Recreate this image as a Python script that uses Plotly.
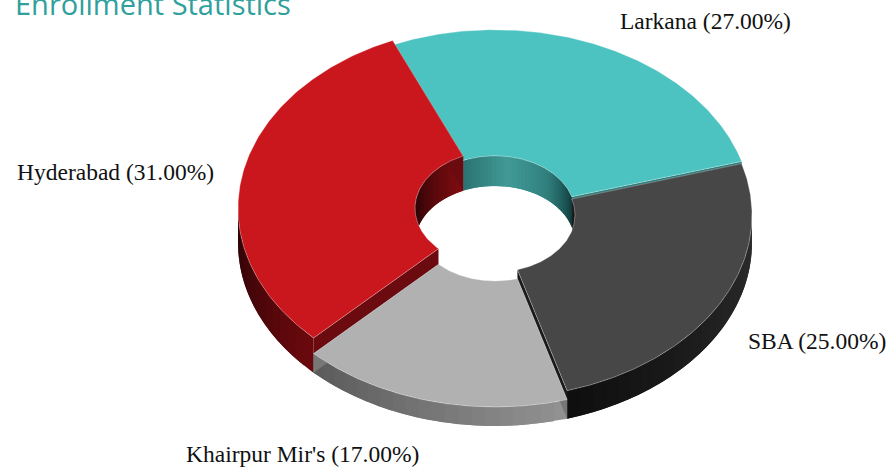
import plotly.graph_objects as go
import numpy as np

# Data
categories = ["Larkana", "SBA", "Khairpur Mir's", "Hyderabad"]
values = [27, 25, 17, 31]
title_text = "Enrollment Statistics"

# Geometry of the projected donut (pixels on the hidden axes)
START = -23.5
CX, CY = 495, 243
RX, RY = 257, 183
IRX, IRY = 80, 57
PX_PER_UNIT = 1.12

TOPS = ["#4cc3c0", "#474747", "#b1b1b1", "#c9171d"]
OUTER = [["#2a7372", "#2a7372"], ["#2e2e2e", "#0f0f0f"], ["#939393", "#5a5a5a"], ["#6c0a0e", "#2a0306"]]
INNER = [["#2a7372", "#429a96", "#2f7f7d", "#103a3a"], ["#101010", "#050505"], ["#888888", "#888888"], ["#1e0305", "#800d11"]]
FACE = ["#2d7a78", "#1a1a1a", "#777777", "#6b0a0f"]
LABEL_POS = [(705, 21), (817, 341), (302, 454), (115, 172)]


def lerp_color(stops, t):
    rgb = [np.array([int(s[i:i + 2], 16) for i in (1, 3, 5)], float) for s in stops]
    p = min(max(t, 0), 1) * (len(rgb) - 1)
    k = min(int(p), len(rgb) - 2)
    c = rgb[k] + (rgb[k + 1] - rgb[k]) * (p - k)
    return "rgb(%d,%d,%d)" % tuple(c)


def pt(theta, rx, ry, z):
    a = np.radians(theta)
    return CX + rx * np.sin(a), CY - z - ry * np.cos(a)


def poly(xs, ys, color, line=None, lw=0.0):
    return go.Scatter(
        x=list(xs) + [xs[0]], y=list(ys) + [ys[0]], mode="lines", fill="toself",
        fillcolor=color, line=dict(color=line or color, width=lw),
        hoverinfo="skip", showlegend=False,
    )


def wall(a0, a1, rx, ry, z, stops, step=3):
    """Gradient wall: each band overlaps the next one so that no seams show."""
    out = []
    n = max(int(abs(a1 - a0) / step), 1)
    edges = np.linspace(a0, a1, n + 1)
    for i in range(n):
        th = np.linspace(edges[i], a1 if i == n - 1 else edges[min(i + 2, n)], 12)
        tx, ty = pt(th, rx, ry, z)
        bx, by = pt(th[::-1], rx, ry, 0)
        out.append(poly(list(tx) + list(bx), list(ty) + list(by), lerp_color(stops, (i + .5) / n)))
    return out


# Angular extents computed from the values
bounds = []
a = START
for v in values:
    bounds.append((a, a + v * 3.6))
    a += v * 3.6

traces = []
for idx in [0, 3, 1, 2]:  # back to front
    a0, a1 = bounds[idx]
    z = values[idx] * PX_PER_UNIT
    # inner wall: visible only on the back half of the hole
    for lo, hi in [(-90, 90), (270, 450)]:
        s, e = max(a0, lo), min(a1, hi)
        if e > s:
            traces += wall(s, e, IRX, IRY, z, INNER[idx])
    # outer wall: visible only on the front half
    s, e = max(a0, 90), min(a1, 270)
    if e > s:
        traces += wall(s, e, RX, RY, z, OUTER[idx])
    # radial end faces
    for ang in (a0, a1):
        p = [pt(ang, RX, RY, z), pt(ang, IRX, IRY, z), pt(ang, IRX, IRY, 0), pt(ang, RX, RY, 0)]
        traces.append(poly([q[0] for q in p], [q[1] for q in p], FACE[idx]))
    # top surface
    th = np.linspace(a0, a1, 160)
    ox, oy = pt(th, RX, RY, z)
    ix, iy = pt(th[::-1], IRX, IRY, z)
    traces.append(poly(list(ox) + list(ix), list(oy) + list(iy), TOPS[idx],
                       line="rgba(255,255,255,0.4)", lw=0.8))

fig = go.Figure(traces)
for name, v, (lx, ly) in zip(categories, values, LABEL_POS):
    fig.add_annotation(x=lx, y=ly, text=f"{name} ({v:.2f}%)", showarrow=False,
                       xanchor="center", yanchor="middle",
                       font=dict(family="Liberation Serif", size=23.5, color="#111111"))
fig.update_layout(
    width=891, height=468, margin=dict(l=0, r=0, t=0, b=0),
    paper_bgcolor="white", plot_bgcolor="white", showlegend=False,
    title=dict(text=title_text, x=15 / 891, xanchor="left", y=0.9904, yanchor="middle",
               font=dict(family="Open Sans", size=29, color="#2fa09c")),
    xaxis=dict(range=[0, 891], visible=False),
    yaxis=dict(range=[468, 0], visible=False),
)
fig.write_html("out.html", config=dict(displayModeBar=False),
               post_script="document.body.style.margin='0';document.body.style.overflow='hidden';")
